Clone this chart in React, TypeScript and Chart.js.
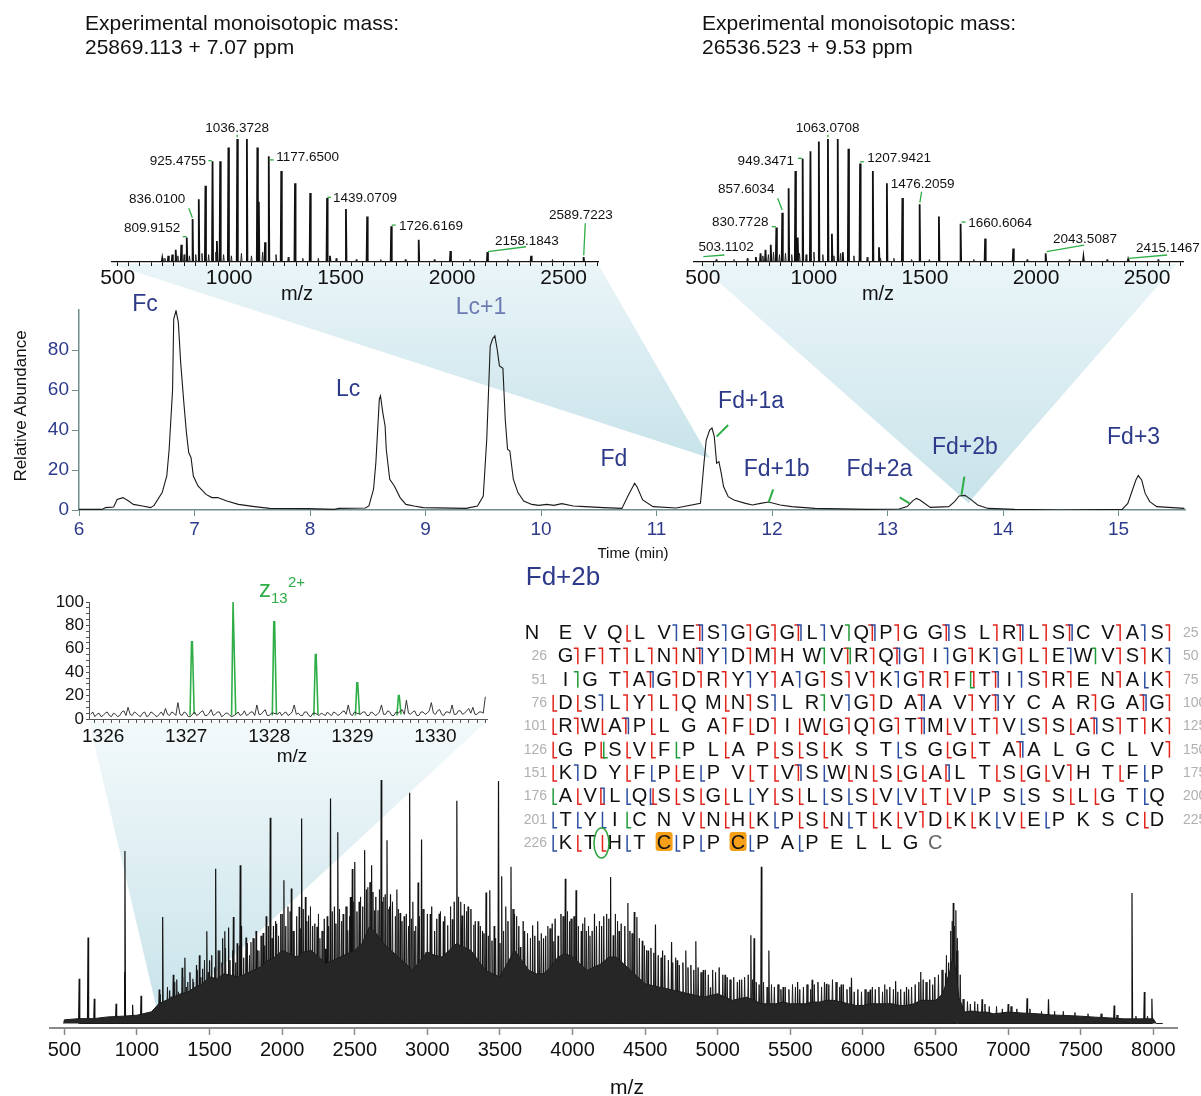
import React, { useEffect, useRef } from "react";
import { Chart, registerables } from "chart.js";

Chart.register(...registerables);

const FONT = "'Liberation Sans', Arial, Helvetica, sans-serif";
const NAVY = "#2d3a8a";
const NAVY_LIGHT = "#6d7bb3";
const GREEN = "#2fae47";
const AXIS_TEAL = "#6f8c8c";

// ================= DATA =================
// Header texts
const massHeading = "Experimental monoisotopic mass:";
const massLeftValue = "25869.113 + 7.07 ppm";
const massRightValue = "26536.523 + 9.53 ppm";

// Top-left inset: charge-state envelope (m/z, relative abundance)
const fd1aMz = [700, 727, 745, 760.3, 785.4, 809.9, 836.0, 863.8, 893.6, 925.5, 945.0, 959.7, 996.6, 1036.4, 1079.5, 1126.4, 1133.0, 1161.0, 1177.6, 1233.6, 1295.3, 1363.4, 1439.1, 1452.0, 1523.7, 1618.8, 1726.7, 1850.0, 1992.2, 2158.1, 2354.2, 2589.5];
const fd1aAbund = [3, 5, 6, 10, 14, 20, 35, 51, 62, 82, 17, 82, 93, 100, 100, 93, 49, 16, 86, 74, 64, 56, 52, 5, 43, 37, 29, 18, 9, 8, 5, 4];
const fd1aNoiseMz = [712, 770, 798, 822, 850, 878, 908, 940, 975, 1010, 1055, 1100, 1150, 1210, 1265, 1330, 1400, 1480, 1570, 1680, 1790, 1920, 2080, 2250, 2450];
const fd1aNoiseAbund = [3, 5, 6, 5, 6, 7, 6, 8, 6, 5, 7, 5, 8, 6, 4, 3, 3, 3, 2, 2, 2, 2, 2, 2, 2];

// Top-right inset
const fd2bMz = [738.6, 759.6, 781.9, 805.6, 830.8, 857.5, 886.1, 916.6, 927.0, 949.3, 984.4, 1022.2, 1063.1, 1081.0, 1107.3, 1130.0, 1155.4, 1207.9, 1265.4, 1293.0, 1328.6, 1398.5, 1476.1, 1562.9, 1660.5, 1771.1, 1897.6, 2043.5, 2213.7, 2414.8];
const fd2bAbund = [4, 7, 10, 14, 28, 40, 60, 74, 20, 84, 90, 98, 100, 23, 100, 8, 92, 80, 74, 12, 64, 52, 47, 37, 31, 19, 11, 7, 4, 2];
const fd2bNoiseMz = [560, 640, 700, 770, 795, 818, 845, 872, 900, 935, 965, 1000, 1040, 1090, 1120, 1180, 1240, 1300, 1360, 1440, 1520, 1720, 1960, 2150, 2320, 2550];
const fd2bNoiseAbund = [2, 2, 3, 5, 6, 8, 6, 7, 6, 7, 6, 8, 6, 5, 7, 5, 4, 3, 3, 2, 2, 2, 2, 2, 2, 2];

const insetMajorTicks = [500, 1000, 1500, 2000, 2500];

// Chromatogram
const lcTime = [6.0, 6.2, 6.23, 6.30, 6.33, 6.38, 6.43, 6.47, 6.55, 6.62, 6.65, 6.72, 6.76, 6.78, 6.81, 6.82, 6.84, 6.86, 6.88, 6.91, 6.93, 6.95, 6.97, 6.99, 7.03, 7.10, 7.15, 7.20, 7.28, 7.38, 7.52, 7.65, 7.98, 8.21, 8.25, 8.48, 8.51, 8.55, 8.57, 8.60, 8.61, 8.63, 8.65, 8.66, 8.69, 8.73, 8.78, 8.83, 8.90, 8.98, 9.35, 9.45, 9.50, 9.53, 9.56, 9.58, 9.60, 9.62, 9.64, 9.67, 9.69, 9.71, 9.73, 9.76, 9.80, 9.85, 9.92, 9.98, 10.05, 10.11, 10.18, 10.28, 10.38, 10.54, 10.70, 10.75, 10.81, 10.83, 10.88, 10.97, 11.17, 11.38, 11.41, 11.43, 11.46, 11.48, 11.50, 11.52, 11.54, 11.56, 11.58, 11.62, 11.67, 11.77, 11.83, 11.90, 11.97, 12.07, 12.17, 12.37, 12.83, 13.10, 13.17, 13.22, 13.25, 13.28, 13.37, 13.53, 13.58, 13.62, 13.67, 13.72, 13.78, 13.87, 14.10, 14.50, 15.03, 15.08, 15.12, 15.15, 15.17, 15.20, 15.23, 15.27, 15.33, 15.57];
const lcAbund = [0.3, 0.3, 1.2, 1.5, 5.3, 6.2, 4.5, 2.8, 2.0, 1.2, 2.3, 8.7, 17, 30, 60, 95.5, 99.7, 93.8, 73.8, 52, 38.7, 28.7, 26.2, 17, 12, 7.8, 6.2, 6.2, 4.5, 2.8, 1.7, 0.8, 0.7, 0.3, 0.8, 1.0, 2.0, 10.4, 23.7, 55.4, 57.1, 48.7, 42, 30.4, 15.4, 12, 6.2, 2.8, 2.0, 1.2, 0.8, 2.0, 7.0, 35.4, 82, 85.5, 87.1, 80.5, 72, 70.8, 45.4, 30.4, 29.5, 15.4, 8.7, 4.5, 2.8, 2.3, 2.8, 2.3, 3.2, 2.0, 1.7, 1.2, 0.8, 6.7, 13.4, 11.7, 5.0, 1.7, 1.0, 3.3, 23, 35, 40, 41, 36.7, 23.4, 24.2, 18.4, 11.7, 6.7, 5.0, 3.3, 2.5, 3.3, 4.0, 2.5, 1.7, 0.8, 0.3, 0.5, 1.7, 4.7, 5.8, 5.0, 1.3, 1.7, 4.2, 7.0, 7.3, 5.3, 2.5, 0.8, 0.3, 0, 0.3, 3.3, 10, 15, 17.2, 15, 8.3, 4.2, 1.7, 0.8];
const lcTimeTicks = [6, 7, 8, 9, 10, 11, 12, 13, 14, 15];
const lcAbundTicks = [0, 20, 40, 60, 80];
const lcPeakNames = ["Fc", "Lc", "Lc+1", "Fd", "Fd+1a", "Fd+1b", "Fd+2a", "Fd+2b", "Fd+3"];

// Isotope inset z13 2+
const isoPeakMz = [1327.07, 1327.57, 1328.06, 1328.56, 1329.06, 1329.56];
const isoPeakAbund = [66, 100, 83, 55, 31, 20];
const isoNoise: [number, number][] = [
  [1325.85, 4], [1325.875, 6], [1325.90, 2], [1325.925, 4], [1325.95, 5], [1325.975, 2], [1326.00, 3], [1326.025, 5], [1326.05, 6], [1326.075, 3],
  [1326.10, 2], [1326.125, 5], [1326.15, 4], [1326.175, 2], [1326.20, 3], [1326.225, 6], [1326.25, 7], [1326.275, 3], [1326.30, 10], [1326.325, 4],
  [1326.35, 3], [1326.375, 6], [1326.40, 5], [1326.425, 3], [1326.45, 2], [1326.475, 5], [1326.50, 6], [1326.525, 2], [1326.55, 3], [1326.575, 6],
  [1326.60, 5], [1326.625, 3], [1326.65, 2], [1326.675, 4], [1326.70, 6], [1326.725, 3], [1326.75, 9], [1326.775, 4], [1326.80, 3], [1326.825, 6],
  [1326.85, 5], [1326.875, 3], [1326.90, 14], [1326.925, 4], [1326.95, 3], [1326.975, 6], [1327.00, 5], [1327.025, 2], [1327.05, 2], [1327.10, 6],
  [1327.125, 3], [1327.15, 4], [1327.175, 6], [1327.20, 7], [1327.225, 3], [1327.25, 3], [1327.275, 5], [1327.30, 8], [1327.325, 3], [1327.35, 4],
  [1327.375, 6], [1327.40, 6], [1327.425, 2], [1327.45, 3], [1327.475, 5], [1327.50, 5], [1327.525, 3], [1327.55, 2], [1327.60, 4], [1327.625, 6],
  [1327.65, 3], [1327.675, 4], [1327.70, 7], [1327.725, 3], [1327.75, 4], [1327.775, 6], [1327.80, 6], [1327.825, 3], [1327.85, 12], [1327.875, 4],
  [1327.90, 4], [1327.925, 6], [1327.95, 8], [1327.975, 3], [1328.00, 3], [1328.025, 5], [1328.05, 5], [1328.10, 4], [1328.125, 6], [1328.15, 3],
  [1328.175, 5], [1328.20, 6], [1328.225, 3], [1328.25, 4], [1328.275, 6], [1328.30, 12], [1328.325, 4], [1328.35, 5], [1328.375, 3], [1328.40, 3],
  [1328.425, 6], [1328.45, 6], [1328.475, 3], [1328.50, 2], [1328.525, 5], [1328.55, 5], [1328.60, 3], [1328.625, 5], [1328.65, 4], [1328.675, 3],
  [1328.70, 6], [1328.725, 4], [1328.75, 3], [1328.775, 6], [1328.80, 5], [1328.825, 3], [1328.85, 4], [1328.875, 6], [1328.90, 7], [1328.925, 4],
  [1328.95, 12], [1328.975, 4], [1329.00, 3], [1329.025, 6], [1329.05, 5], [1329.10, 4], [1329.125, 6], [1329.15, 6], [1329.175, 3], [1329.20, 3],
  [1329.225, 6], [1329.25, 5], [1329.275, 3], [1329.30, 4], [1329.325, 6], [1329.35, 12], [1329.375, 4], [1329.40, 4], [1329.425, 7], [1329.45, 6],
  [1329.475, 3], [1329.50, 3], [1329.525, 6], [1329.55, 5], [1329.60, 8], [1329.625, 4], [1329.65, 16], [1329.675, 5], [1329.70, 4], [1329.725, 6],
  [1329.75, 7], [1329.775, 3], [1329.80, 3], [1329.825, 6], [1329.85, 6], [1329.875, 4], [1329.90, 5], [1329.925, 7], [1329.95, 14], [1329.975, 5],
  [1330.00, 4], [1330.025, 7], [1330.05, 8], [1330.075, 4], [1330.10, 3], [1330.125, 6], [1330.15, 6], [1330.175, 5], [1330.20, 12], [1330.225, 4],
  [1330.25, 4], [1330.275, 7], [1330.30, 7], [1330.325, 4], [1330.35, 5], [1330.375, 7], [1330.40, 9], [1330.425, 5], [1330.45, 10], [1330.475, 4],
  [1330.50, 4], [1330.525, 6], [1330.55, 6], [1330.575, 5], [1330.60, 19],
];
const isoMajorTicks = [1326, 1327, 1328, 1329, 1330];

// Full MS/MS spectrum: prominent peaks (m/z, rel. abundance)
const spectrumPeaks: [number, number][] = [
  [602, 18.4], [663, 35.3], [706, 10.2], [856, 8.1], [915, 21.1], [917, 70.8], [970, 7.7], [1028, 11.4], [1153, 14.0], [1177, 43.7],
  [1225, 13.6], [1274, 18.1], [1311, 22.9], [1350, 17.0], [1385, 18.4], [1452, 22.5], [1481, 37.9], [1542, 63.6], [1605, 37.9], [1631, 39.4],
  [1664, 43.7], [1711, 65.0], [1751, 35.3], [1785, 33.5], [1869, 37.2], [1918, 84.5], [1962, 41.0], [2012, 58.8], [2063, 55.4], [2117, 47.9],
  [2134, 84.2], [2182, 44.4], [2240, 39.7], [2296, 30.7], [2333, 92.4], [2383, 78.5], [2452, 38.3], [2483, 63.4], [2500, 66.3], [2568, 71.2],
  [2616, 65.0], [2637, 46.5], [2660, 46.5], [2682, 100], [2722, 75.3], [2748, 53.1], [2812, 45.4], [2878, 94.8], [2936, 57.9], [2960, 75.6],
  [2990, 29.3], [3081, 45.1], [3140, 40.3], [3172, 42.8], [3203, 91.5], [3240, 44.4], [3320, 40.6], [3404, 53.8], [3430, 54.7], [3490, 99.6],
  [3512, 60.5], [3576, 64.4], [3640, 31.4], [3725, 40.3], [3871, 33.8], [3950, 59.4], [4024, 54.7], [4084, 43.5], [4151, 45.1], [4262, 60.2],
  [4280, 36.2], [4381, 49.5], [4425, 45.8], [4443, 43.7], [4571, 40.7], [4682, 33.5], [4849, 33.8], [4950, 14.9], [5228, 36.2], [5300, 64.4],
  [5352, 30.0], [5748, 16.3], [5921, 18.8], [6225, 17.4], [6398, 21.1], [6569, 20.7], [6622, 49.5], [6640, 46.5], [7130, 10.4], [7278, 10.0],
  [7730, 7.4], [7853, 53.6], [7938, 12.9], [7990, 10.2],
];
// Spectrum: medium fragment peaks
const spectrumMinorPeaks: [number, number][] = [
  [1250, 20], [1330, 27], [1410, 24], [1430, 28], [1500, 26], [1570, 30], [1590, 35], [1690, 33], [1720, 40], [1820, 38],
  [1840, 30], [1890, 44], [1940, 40], [1990, 45], [2040, 48], [2080, 38], [2160, 52], [2210, 40], [2260, 35], [2310, 44],
  [2360, 48], [2420, 45], [2470, 52], [2530, 50], [2590, 56], [2700, 52], [2740, 48], [2790, 55], [2840, 44], [2900, 50],
  [2920, 40], [3020, 45], [3050, 38], [3110, 42], [3230, 50], [3280, 48], [3350, 42], [3380, 38], [3460, 40], [3540, 48],
  [3600, 45], [3670, 38], [3760, 42], [3800, 35], [3830, 40], [3900, 36], [3980, 42], [4060, 38], [4120, 36], [4200, 40],
  [4320, 38], [4480, 34], [4520, 30], [4620, 30], [4720, 26], [4780, 30], [4900, 22], [5050, 20], [5150, 18], [5250, 35],
  [5450, 15], [5550, 17], [5650, 18], [5850, 16], [6050, 14], [6150, 16], [6300, 15], [6480, 16], [6590, 25], [6650, 30],
  [6820, 10], [7000, 8],
];
// Spectrum: crowded low-level fragment cluster
const spectrumClusterPeaks: [number, number][] = [
  [1160, 12], [1185, 9], [1210, 15], [1235, 11], [1260, 17], [1285, 13], [1315, 19], [1340, 15], [1365, 21], [1390, 17],
  [1415, 22], [1440, 19], [1465, 26], [1490, 21], [1515, 28], [1535, 23], [1560, 30], [1585, 25], [1610, 31], [1640, 26],
  [1660, 30], [1680, 25], [1705, 32], [1735, 27], [1760, 33], [1775, 28], [1800, 35], [1830, 30], [1855, 36], [1880, 32],
  [1905, 40], [1930, 35], [1955, 42], [1975, 36], [2000, 45], [2025, 40], [2055, 46], [2075, 38], [2100, 44], [2125, 39],
  [2145, 47], [2170, 42], [2195, 48], [2225, 41], [2250, 45], [2275, 38], [2290, 43], [2320, 40], [2345, 46], [2370, 41],
  [2395, 47], [2410, 42], [2440, 48], [2465, 44], [2490, 50], [2515, 46], [2540, 52], [2555, 48], [2580, 55], [2605, 58],
  [2625, 54], [2645, 52], [2670, 55], [2690, 50], [2710, 53], [2735, 47], [2760, 50], [2780, 44], [2800, 47], [2825, 42],
  [2855, 45], [2870, 40], [2890, 43], [2910, 38], [2945, 44], [2970, 47], [3000, 45], [3030, 48], [3065, 43], [3090, 46],
  [3120, 44], [3160, 48], [3185, 50], [3215, 52], [3255, 49], [3270, 46], [3300, 47], [3330, 42], [3365, 40], [3390, 37],
  [3420, 36], [3445, 34], [3470, 35], [3500, 33], [3525, 38], [3555, 42], [3590, 47], [3615, 44], [3630, 40], [3660, 42],
  [3690, 37], [3710, 35], [3740, 36], [3770, 34], [3785, 37], [3815, 36], [3845, 39], [3860, 41], [3880, 43], [3920, 45],
  [3935, 44], [3965, 46], [3990, 43], [4010, 44], [4040, 40], [4070, 41], [4095, 38], [4110, 40], [4135, 38], [4165, 40],
  [4185, 42], [4215, 44], [4235, 45], [4250, 43], [4295, 45], [4310, 42], [4335, 41], [4360, 40], [4395, 38], [4410, 37],
  [4460, 35], [4495, 32], [4510, 30], [4540, 31], [4560, 29], [4590, 28], [4610, 27], [4635, 28], [4660, 26], [4690, 25],
  [4710, 27], [4735, 24], [4760, 25], [4795, 23], [4815, 24], [4835, 22], [4865, 23], [4885, 21], [4915, 22], [4935, 20],
  [4965, 22], [4985, 21], [5010, 23], [5035, 20], [5065, 19], [5085, 18], [5110, 19], [5135, 17], [5165, 18], [5185, 19],
  [5210, 20], [5240, 18], [5265, 17], [5285, 16], [5315, 17], [5340, 15], [5370, 16], [5390, 15], [5415, 16], [5435, 14],
  [5465, 15], [5490, 14], [5515, 16], [5535, 15], [5565, 14], [5590, 15], [5615, 16], [5640, 14], [5665, 16], [5690, 17],
  [5715, 15], [5735, 17], [5765, 16], [5790, 18], [5815, 17], [5840, 15], [5865, 16], [5890, 14], [5910, 15], [5940, 13],
  [5965, 14], [5990, 13], [6015, 14], [6035, 13], [6065, 15], [6085, 14], [6110, 15], [6135, 13], [6165, 14], [6185, 15],
  [6210, 14], [6240, 13], [6260, 14], [6285, 13], [6315, 14], [6335, 15], [6360, 16], [6385, 17], [6415, 18], [6435, 17],
  [6460, 18], [6495, 19], [6520, 20], [6545, 22], [6575, 28], [6605, 38], [6615, 42], [6630, 40], [6650, 35], [6670, 20],
  [6690, 10], [6720, 9], [6740, 8], [6770, 9], [6790, 8], [6840, 8], [6870, 7], [6920, 7], [6960, 6], [7020, 7],
  [7060, 6], [7150, 6], [7230, 5], [7320, 5], [7380, 5], [7460, 4.5], [7550, 4], [7640, 4], [7750, 3.5], [7880, 3],
  [7960, 3],
];
// Spectrum: dense unresolved fragment envelope
const spectrumEnvelope: [number, number][] = [
  [495, 0], [500, 1.5], [600, 2.0], [700, 2.0], [800, 2.7], [900, 3.0], [1000, 3.4], [1100, 4.8], [1150, 8.1], [1200, 9.5],
  [1250, 10.8], [1300, 12.2], [1350, 12.9], [1400, 14.9], [1450, 16.3], [1500, 19.1], [1550, 18.4], [1600, 20.4], [1650, 19.8], [1700, 19.1],
  [1750, 20.4], [1800, 21.8], [1850, 23.2], [1900, 25.9], [1950, 27.3], [2000, 30.0], [2050, 28.7], [2100, 27.3], [2150, 29.4], [2200, 30.0],
  [2250, 27.3], [2300, 24.6], [2350, 25.9], [2400, 27.3], [2450, 28.7], [2500, 30.0], [2550, 32.8], [2600, 39.6], [2650, 36.9], [2700, 32.8],
  [2750, 30.0], [2800, 27.3], [2850, 24.6], [2900, 21.8], [2950, 25.9], [3000, 29.4], [3050, 28.0], [3100, 27.3], [3150, 30.0], [3200, 32.8],
  [3250, 31.4], [3300, 30.0], [3350, 25.9], [3400, 21.8], [3450, 20.4], [3500, 19.1], [3550, 24.6], [3600, 30.0], [3650, 25.9], [3700, 21.8],
  [3750, 20.4], [3800, 20.4], [3850, 23.2], [3900, 27.3], [3950, 28.7], [4000, 27.3], [4050, 24.6], [4100, 21.8], [4150, 23.2], [4200, 24.6],
  [4250, 27.3], [4300, 27.3], [4350, 24.6], [4400, 21.8], [4450, 19.1], [4500, 16.3], [4550, 15.6], [4600, 14.9], [4650, 14.3], [4700, 13.6],
  [4750, 12.9], [4800, 12.2], [4850, 11.5], [4900, 10.8], [4950, 11.5], [5000, 12.2], [5050, 10.8], [5100, 9.5], [5150, 10.2], [5200, 10.8],
  [5250, 9.5], [5300, 8.1], [5350, 8.1], [5400, 8.1], [5450, 8.8], [5500, 8.1], [5550, 8.1], [5600, 8.1], [5650, 8.8], [5700, 8.8],
  [5750, 9.5], [5800, 9.5], [5850, 8.8], [5900, 8.1], [5950, 7.4], [6000, 7.4], [6050, 8.1], [6100, 8.1], [6150, 8.1], [6200, 8.1],
  [6250, 7.4], [6300, 7.4], [6350, 8.1], [6400, 9.5], [6450, 9.5], [6500, 9.5], [6550, 12.2], [6600, 21.8], [6620, 27.3], [6640, 21.8],
  [6660, 10.8], [6700, 4.7], [6750, 5.1], [6800, 4.7], [6850, 4.7], [6900, 4.0], [6950, 4.3], [7000, 4.7], [7100, 4.3], [7200, 4.0],
  [7300, 3.5], [7400, 3.3], [7500, 3.0], [7600, 2.6], [7700, 2.3], [7800, 1.9], [7900, 1.9], [8000, 1.9], [8020, 0], [8065, 0],
];
const spectrumTicks = [500, 1000, 1500, 2000, 2500, 3000, 3500, 4000, 4500, 5000, 5500, 6000, 6500, 7000, 7500, 8000];

// Sequence (Fd+2b) with fragment-ion cleavage marks after each residue
// lower case = N-terminal fragment mark, upper case = C-terminal fragment mark; r red, b blue, g green
const seqRows = [
  "EVQLVESGGGLVQPGGSLRLSCVAS",
  "GFTLNNYDMHWVRQGIGKGLEWVSK",
  "IGTAGDRYYAGSVKGRFTISRENAK",
  "DSLYLQMNSLRVGDAAVYYCARGAG",
  "RWAPLGAFDIWGQGTMVTVSSASTK",
  "GPSVFPLAPSSKSTSGGTAALGCLV",
  "KDYFPEPVTVSWNSGALTSGVHTFP",
  "AVLQSSGLYSLSSVVTVPSSSLGTQ",
  "TYICNVNHKPSNTKVDKKVEPKSCD",
  "KTHTCPPCPAPELLGC",
];
const seqMarks = [
  "- - R - b rb b r r rb b g rb r - rb - r rb r rb - r b r",
  "r r r r r rb b r r - g rg r rb r b r b r r b g r r b",
  "g - r rb r r r b r b r r r b r r Gr rb b r r - r B rR",
  "R b r r r - R r b - g b r - rb - r rb - - - r - rb rR",
  "r R rb R - - r R r R R r r r rb R R r B r R rb r r rR",
  "- RG R R G - R - R R R - - B - R R - rb - - - - - rR",
  "b - R B R B - R R rb B R R R R Rb - R R R r - R B G",
  "R Rb B BR R R R B R R B B R B R R B - B - R R - B B",
  "B B G - - R R R B R R B R R r R R B R B - - - R B",
  "R R B - B B - B - B - - - - - -",
];
const seqCysHighlight = [230, 233];
const seqCleavageAfter = 227;

// ================= LAYOUT / STYLE =================
const LA = { left: 100, top: 100, width: 530, height: 210, pad: { left: 11, right: 32, top: 39, bottom: 8 } };
const LB = { left: 680, top: 100, width: 521, height: 210, pad: { left: 14, right: 18, top: 39, bottom: 8 } };
const LC = { left: 0, top: 282, width: 1201, height: 270, pad: { left: 0, right: 16, top: 28, bottom: 6 } };
const LD = { left: 20, top: 575, width: 480, height: 190, pad: { left: 0, right: 13, top: 27, bottom: 14 } };
const LE = { left: 0, top: 768, width: 1201, height: 300, pad: { left: 50, right: 24, top: 12, bottom: 4 } };

type InsetLabel = { text: string; mz: number; ab: number; align: "left" | "right" | "center"; leader: number[] };
const fd1aLabels: InsetLabel[] = [
  { text: "1036.3728", mz: 1036, ab: 108.7, align: "center", leader: [1036, 101.5, 1036, 103.5] },
  { text: "925.4755", mz: 896, ab: 82.1, align: "right", leader: [907, 82.4, 922, 82.4] },
  { text: "1177.6500", mz: 1211, ab: 85.1, align: "left", leader: [1181, 83, 1200, 83] },
  { text: "836.0100", mz: 803, ab: 51, align: "right", leader: [819, 43.7, 835, 36] },
  { text: "809.9152", mz: 781, ab: 27.1, align: "right", leader: [792, 20.6, 809, 20.6] },
  { text: "1439.0709", mz: 1466, ab: 51.5, align: "left", leader: [1440, 52.6, 1457, 52.6] },
  { text: "1726.6169", mz: 1762, ab: 28.7, align: "left", leader: [1729, 30, 1747, 30] },
  { text: "2158.1843", mz: 2192, ab: 17.1, align: "left", leader: [2160, 8.4, 2331, 12.4] },
  { text: "2589.7223", mz: 2577, ab: 38.2, align: "center", leader: [2597, 31.5, 2590, 5.5] },
];
const fd2bLabels: InsetLabel[] = [
  { text: "1063.0708", mz: 1062, ab: 108.7, align: "center", leader: [1063, 101.5, 1063, 103.5] },
  { text: "949.3471", mz: 910, ab: 81.5, align: "right", leader: [928, 84.3, 948, 84.3] },
  { text: "1207.9421", mz: 1240, ab: 84.3, align: "left", leader: [1208, 81.5, 1225, 81.5] },
  { text: "857.6034", mz: 822, ab: 59.1, align: "right", leader: [837, 51.8, 857, 42.3] },
  { text: "830.7728", mz: 795, ab: 32.3, align: "right", leader: [810, 28.7, 829, 28.7] },
  { text: "1476.2059", mz: 1346, ab: 63.2, align: "left", leader: [1485, 57.2, 1477, 48.2] },
  { text: "1660.6064", mz: 1695, ab: 31.5, align: "left", leader: [1665, 32.5, 1683, 32.5] },
  { text: "503.1102", mz: 480, ab: 11.6, align: "left", leader: [502, 4.3, 597, 5.7] },
  { text: "2043.5087", mz: 2077, ab: 18.5, align: "left", leader: [2048, 8.4, 2217, 13.8] },
  { text: "2415.1467", mz: 2450, ab: 11.1, align: "left", leader: [2418, 3, 2590, 5.7] },
];
// chromatogram peak-name placement (time, abundance) and optional green leader
const lcLabelPlacement = [
  { t: 6.571, ab: 102.5 },
  { t: 8.329, ab: 60 },
  { t: 9.48, ab: 101, color: NAVY_LIGHT },
  { t: 10.63, ab: 25 },
  { t: 11.818, ab: 54, leader: [11.52, 36.7, 11.62, 42.5] },
  { t: 12.04, ab: 20, leader: [11.97, 3.8, 12.01, 10.3] },
  { t: 12.93, ab: 20, leader: [13.105, 6.3, 13.19, 3.3] },
  { t: 13.67, ab: 31, leader: [13.64, 7.5, 13.665, 16.7] },
  { t: 15.13, ab: 36 },
];
// zoom funnels: inset axis span -> point on the parent trace
const funnelSpecs = {
  fd1a: { from: 472, to: 2654, t: 11.46, ab: 26 },
  fd2b: { from: 479, to: 2634, t: 13.70, ab: 3.5 },
  iso: { from: 1325.83, to: 1330.62, mz: 1160, ab: 0 },
};

// ================= HELPERS =================
type Pt = { x: number; y: number | null };

function sticks(peaks: [number, number][], half: number): Pt[] {
  const sorted = [...peaks].sort((a, b) => a[0] - b[0]);
  const pts: Pt[] = [];
  for (const [m, a] of sorted) {
    pts.push({ x: m - half, y: 0 }, { x: m, y: a }, { x: m + half, y: 0 });
  }
  return pts;
}
function zip(a: number[], b: number[]): [number, number][] {
  return a.map((v, i) => [v, b[i]]);
}
function range(from: number, to: number, step: number): number[] {
  const out: number[] = [];
  const n = Math.round((to - from) / step);
  for (let i = 0; i <= n; i++) out.push(Math.round((from + i * step) * 1000) / 1000);
  return out;
}
const isWhole = (v: number) => Math.abs(v - Math.round(v)) < 1e-6;

function axis(o: any) {
  const horizontal = o.position === "bottom";
  return {
    type: "linear",
    position: o.position,
    min: o.min,
    max: o.max,
    afterBuildTicks: (ax: any) => {
      ax.ticks = o.ticks.map((v: number) => ({ value: v }));
    },
    afterFit: (ax: any) => {
      if (horizontal) ax.height = o.size;
      else ax.width = o.size;
    },
    grid: {
      display: true,
      drawOnChartArea: false,
      drawTicks: true,
      tickLength: o.tickLength,
      tickColor: o.color,
      tickWidth: o.tickWidth ?? 1,
      color: o.color,
    },
    border: { display: true, color: o.color, width: o.borderWidth },
    ticks: {
      autoSkip: false,
      maxRotation: 0,
      minRotation: 0,
      padding: o.padding,
      color: o.labelColor,
      font: { size: o.fontSize, family: FONT, lineHeight: 1.2 },
      callback: (v: number) => (o.show(v) ? String(Math.round(v)) : ""),
    },
  };
}

function baseOptions(pad: any) {
  return {
    responsive: false,
    maintainAspectRatio: false,
    animation: false,
    devicePixelRatio: 1,
    events: [],
    layout: { padding: pad },
    plugins: { legend: { display: false }, tooltip: { enabled: false } },
  };
}

function insetLabelPlugin(id: string, labels: InsetLabel[]) {
  return {
    id,
    afterDatasetsDraw(chart: any) {
      const { ctx } = chart;
      const xs = chart.scales.x;
      const ys = chart.scales.y;
      ctx.save();
      ctx.lineWidth = 1.3;
      ctx.strokeStyle = GREEN;
      ctx.fillStyle = "#111";
      ctx.font = `13.5px ${FONT}`;
      ctx.textBaseline = "middle";
      for (const l of labels) {
        const [m1, a1, m2, a2] = l.leader;
        ctx.beginPath();
        ctx.moveTo(xs.getPixelForValue(m1), ys.getPixelForValue(a1));
        ctx.lineTo(xs.getPixelForValue(m2), ys.getPixelForValue(a2));
        ctx.stroke();
        ctx.textAlign = l.align;
        ctx.fillText(l.text, xs.getPixelForValue(l.mz), ys.getPixelForValue(l.ab));
      }
      ctx.restore();
    },
  };
}

const chromLabelPlugin = {
  id: "chromLabels",
  afterDatasetsDraw(chart: any) {
    const { ctx } = chart;
    const xs = chart.scales.x;
    const ys = chart.scales.y;
    ctx.save();
    ctx.font = `23px ${FONT}`;
    ctx.textAlign = "center";
    ctx.textBaseline = "middle";
    lcPeakNames.forEach((name, i) => {
      const p: any = lcLabelPlacement[i];
      if (p.leader) {
        ctx.strokeStyle = GREEN;
        ctx.lineWidth = 2;
        ctx.beginPath();
        ctx.moveTo(xs.getPixelForValue(p.leader[0]), ys.getPixelForValue(p.leader[1]));
        ctx.lineTo(xs.getPixelForValue(p.leader[2]), ys.getPixelForValue(p.leader[3]));
        ctx.stroke();
      }
      ctx.fillStyle = p.color || NAVY;
      ctx.fillText(name, xs.getPixelForValue(p.t), ys.getPixelForValue(p.ab));
    });
    ctx.restore();
  },
};

function insetConfig(mz: number[], ab: number[], nMz: number[], nAb: number[], labels: InsetLabel[], L: any, min: number, max: number, id: string): any {
  return {
    type: "line",
    data: {
      datasets: [
        { data: sticks(zip(nMz, nAb), 3), borderColor: "#222", borderWidth: 1, pointRadius: 0, tension: 0, fill: false },
        { data: sticks(zip(mz, ab), 2.5), borderColor: "#111", borderWidth: 1.8, pointRadius: 0, tension: 0, fill: false },
      ],
    },
    options: {
      ...baseOptions(L.pad),
      scales: {
        x: axis({
          position: "bottom", min, max, ticks: range(500, 2650, 50), show: (v: number) => insetMajorTicks.includes(v),
          size: 40, tickLength: 4, color: "#111", borderWidth: 1.3, padding: 0, labelColor: "#111", fontSize: 21,
        }),
        y: { display: false, min: 0, max: 100 },
      },
    },
    plugins: [insetLabelPlugin(id, labels)],
  };
}

// ================= COMPONENT =================
export default function App() {
  const bgRef = useRef<HTMLCanvasElement>(null);
  const aRef = useRef<HTMLCanvasElement>(null);
  const bRef = useRef<HTMLCanvasElement>(null);
  const cRef = useRef<HTMLCanvasElement>(null);
  const dRef = useRef<HTMLCanvasElement>(null);
  const eRef = useRef<HTMLCanvasElement>(null);

  useEffect(() => {
    Chart.defaults.font.family = FONT;
    const A = new Chart(aRef.current!, insetConfig(fd1aMz, fd1aAbund, fd1aNoiseMz, fd1aNoiseAbund, fd1aLabels, LA, 472, 2654, "annA"));
    const B = new Chart(bRef.current!, insetConfig(fd2bMz, fd2bAbund, fd2bNoiseMz, fd2bNoiseAbund, fd2bLabels, LB, 460, 2662, "annB"));

    const C = new Chart(cRef.current!, {
      type: "line",
      data: {
        datasets: [
          { data: lcTime.map((t, i) => ({ x: t, y: lcAbund[i] })), borderColor: "#1a1a1a", borderWidth: 1.1, pointRadius: 0, tension: 0, fill: false },
        ],
      },
      options: {
        ...baseOptions(LC.pad),
        scales: {
          x: axis({
            position: "bottom", min: 6, max: 15.575, ticks: lcTimeTicks, show: () => true,
            size: 36, tickLength: 6, color: AXIS_TEAL, borderWidth: 1.5, padding: 2, labelColor: NAVY, fontSize: 19,
          }),
          y: axis({
            position: "left", min: 0, max: 100, ticks: lcAbundTicks, show: () => true,
            size: 79, tickLength: 7, color: AXIS_TEAL, borderWidth: 1.5, padding: 3, labelColor: NAVY, fontSize: 19,
          }),
        },
      },
      plugins: [chromLabelPlugin],
    } as any);

    const greenPts: Pt[] = [];
    isoPeakMz.forEach((c, i) => {
      const h = isoPeakAbund[i];
      greenPts.push({ x: c - 0.024, y: 3 }, { x: c - 0.006, y: h }, { x: c + 0.004, y: h }, { x: c + 0.026, y: 4 }, { x: c + 0.03, y: null });
    });
    const D = new Chart(dRef.current!, {
      type: "line",
      data: {
        datasets: [
          { data: isoNoise.map(([x, y]) => ({ x, y })), borderColor: "#222", borderWidth: 0.9, pointRadius: 0, tension: 0, fill: false },
          { data: greenPts, borderColor: GREEN, borderWidth: 1.6, pointRadius: 0, tension: 0, fill: false, spanGaps: false },
        ],
      },
      options: {
        ...baseOptions(LD.pad),
        scales: {
          x: axis({
            position: "bottom", min: 1325.83, max: 1330.62, ticks: range(1325.9, 1330.6, 0.1), show: (v: number) => isWhole(v) && isoMajorTicks.includes(Math.round(v)),
            size: 32, tickLength: 4, color: "#555", borderWidth: 1, padding: 2, labelColor: "#111", fontSize: 19,
          }),
          y: axis({
            position: "left", min: 0, max: 100, ticks: range(0, 100, 5), show: (v: number) => v % 20 === 0,
            size: 69, tickLength: 3, color: "#555", borderWidth: 1, padding: 2, labelColor: "#111", fontSize: 17,
          }),
        },
      },
    } as any);

    const E = new Chart(eRef.current!, {
      type: "line",
      data: {
        datasets: [
          { data: spectrumEnvelope.map(([x, y]) => ({ x, y })), borderColor: "#1a1a1a", backgroundColor: "#262626", borderWidth: 1, pointRadius: 0, tension: 0, fill: "origin" },
          { data: sticks(spectrumClusterPeaks, 6), borderColor: "#1c1c1c", borderWidth: 1, pointRadius: 0, tension: 0, fill: false },
          { data: sticks([...spectrumPeaks, ...spectrumMinorPeaks], 4), borderColor: "#111", borderWidth: 1.2, pointRadius: 0, tension: 0, fill: false },
        ],
      },
      options: {
        ...baseOptions(LE.pad),
        scales: {
          x: axis({
            position: "bottom", min: 401, max: 8163, ticks: spectrumTicks, show: () => true,
            size: 36, tickLength: 7, tickWidth: 1.5, color: "#8a8a8a", borderWidth: 2, padding: 3, labelColor: "#111", fontSize: 20,
          }),
          y: { display: false, min: -1.85, max: 100 },
        },
      },
    } as any);

    // zoom funnels drawn behind the charts, anchored through the charts' scales
    const bg = bgRef.current!;
    const ctx = bg.getContext("2d")!;
    ctx.clearRect(0, 0, bg.width, bg.height);
    const at = (ch: any, L: any, xv: number, yv: number) => ({
      x: L.left + ch.scales.x.getPixelForValue(xv),
      y: L.top + ch.scales.y.getPixelForValue(yv),
    });
    const tri = (p1: any, p2: any, apex: any, c0: string, c1: string) => {
      const g = ctx.createLinearGradient(0, p1.y, 0, apex.y);
      g.addColorStop(0, c0);
      g.addColorStop(1, c1);
      ctx.fillStyle = g;
      ctx.beginPath();
      ctx.moveTo(p1.x, p1.y);
      ctx.lineTo(p2.x, p2.y);
      ctx.lineTo(apex.x, apex.y);
      ctx.closePath();
      ctx.fill();
    };
    const f1 = funnelSpecs.fd1a;
    const a1 = at(A, LA, f1.from, 0), a2 = at(A, LA, f1.to, 0);
    tri({ x: a1.x, y: a1.y + 2 }, { x: a2.x, y: a2.y + 2 }, at(C, LC, f1.t, f1.ab), "#eaf5f8", "#c8e3ea");
    const f2 = funnelSpecs.fd2b;
    const b1 = at(B, LB, f2.from, 0), b2 = at(B, LB, f2.to, 0);
    tri({ x: b1.x, y: b1.y + 2 }, { x: b2.x, y: b2.y + 2 }, at(C, LC, f2.t, f2.ab), "#eaf5f8", "#c8e3ea");
    const f3 = funnelSpecs.iso;
    const d1 = at(D, LD, f3.from, 0), d2 = at(D, LD, f3.to, 0);
    tri({ x: d1.x, y: d1.y + 2 }, { x: d2.x, y: d2.y + 2 }, at(E, LE, f3.mz, f3.ab), "#f3f9fb", "#c6e2e9");

    return () => {
      [A, B, C, D, E].forEach((c) => c.destroy());
    };
  }, []);

  const canvasStyle = (L: any): React.CSSProperties => ({
    position: "absolute", left: L.left, top: L.top, width: L.width, height: L.height,
  });

  // sequence panel
  const SX0 = 565.5, SDX = 24.65, SY0 = 632, SDY = 23.33;
  const markColor: Record<string, string> = { r: "#e2231a", b: "#2b4ea2", g: "#1f9b3a" };
  const seqEls: React.ReactNode[] = [];
  const hook = (key: string, x: number, yc: number, nTerm: boolean, color: string) => {
    const top = yc - 7, bot = yc + 9;
    const d = nTerm ? `M${x - 4} ${top} L${x} ${top} L${x} ${bot}` : `M${x} ${top} L${x} ${bot} L${x + 4} ${bot}`;
    seqEls.push(<path key={key} d={d} stroke={color} strokeWidth={1.5} fill="none" />);
  };
  seqRows.forEach((row, r) => {
    const yc = SY0 + r * SDY;
    const first = r * 25 + 1;
    if (r === 0) {
      seqEls.push(<text key={`n${r}`} x={532} y={yc} textAnchor="middle" dominantBaseline="central" fontSize={20} fill="#111">N</text>);
    } else {
      seqEls.push(<text key={`n${r}`} x={547} y={yc} textAnchor="end" dominantBaseline="central" fontSize={14} fill="#b0b0b0">{first}</text>);
    }
    if (row.length === 25) {
      seqEls.push(<text key={`e${r}`} x={1183} y={yc} textAnchor="start" dominantBaseline="central" fontSize={14} fill="#b0b0b0">{first + 24}</text>);
    }
    row.split("").forEach((aa, c) => {
      const x = SX0 + c * SDX;
      const num = first + c;
      if (seqCysHighlight.includes(num)) {
        seqEls.push(<rect key={`h${num}`} x={x - 8.5} y={yc - 10} width={17} height={19} rx={3} fill="#f6a01a" />);
      }
      const grey = r === seqRows.length - 1 && c === row.length - 1;
      seqEls.push(
        <text key={`a${num}`} x={x} y={yc} textAnchor="middle" dominantBaseline="central" fontSize={20} fill={grey ? "#666" : "#111"}>{aa}</text>
      );
    });
    seqMarks[r].split(" ").forEach((code, c) => {
      if (code === "-") return;
      const lower = code.split("").filter((ch) => ch === ch.toLowerCase());
      const upper = code.split("").filter((ch) => ch !== ch.toLowerCase()).map((ch) => ch.toLowerCase());
      const gx = SX0 + (c + 0.5) * SDX;
      const wrap = c === row.length - 1 && r < seqRows.length - 1;
      const shift = lower.length && upper.length && !wrap ? 1.6 : 0;
      lower.forEach((ch, i) => {
        const off = (i - (lower.length - 1) / 2) * 2.6 + shift;
        hook(`m${r}-${c}-n${i}`, gx + off, yc, true, markColor[ch]);
      });
      upper.forEach((ch, i) => {
        const off = (i - (upper.length - 1) / 2) * 2.6 - shift;
        if (wrap) hook(`m${r}-${c}-c${i}`, SX0 - 0.5 * SDX + off, yc + SDY, false, markColor[ch]);
        else hook(`m${r}-${c}-c${i}`, gx + off, yc, false, markColor[ch]);
      });
    });
  });
  {
    const idx = seqCleavageAfter - 226;
    seqEls.push(
      <ellipse key="cleave" cx={SX0 + (idx + 0.5) * SDX - 1} cy={SY0 + 9 * SDY + 1} rx={7.5} ry={15} stroke="#2aa23a" strokeWidth={1.5} fill="none" />
    );
  }

  return (
    <div style={{ position: "absolute", left: 0, top: 0, width: 1201, height: 1096, overflow: "hidden", background: "#fff", fontFamily: FONT }}>
      <canvas ref={bgRef} width={1201} height={1096} style={{ position: "absolute", left: 0, top: 0, width: 1201, height: 1096 }} />
      <canvas ref={cRef} width={LC.width} height={LC.height} style={canvasStyle(LC)} />
      <canvas ref={aRef} width={LA.width} height={LA.height} style={canvasStyle(LA)} />
      <canvas ref={bRef} width={LB.width} height={LB.height} style={canvasStyle(LB)} />
      <canvas ref={dRef} width={LD.width} height={LD.height} style={canvasStyle(LD)} />
      <canvas ref={eRef} width={LE.width} height={LE.height} style={canvasStyle(LE)} />
      <svg width={1201} height={1096} style={{ position: "absolute", left: 0, top: 0, pointerEvents: "none" }} fontFamily={FONT}>
        <text x={85} y={29.5} fontSize={21} fill="#111">{massHeading}</text>
        <text x={85} y={53.5} fontSize={21} fill="#111">{massLeftValue}</text>
        <text x={702} y={29.5} fontSize={21} fill="#111">{massHeading}</text>
        <text x={702} y={53.5} fontSize={21} fill="#111">{massRightValue}</text>
        <text x={297} y={293} textAnchor="middle" dominantBaseline="central" fontSize={20} fill="#111">m/z</text>
        <text x={878} y={293} textAnchor="middle" dominantBaseline="central" fontSize={20} fill="#111">m/z</text>
        <text x={20} y={406} textAnchor="middle" dominantBaseline="central" fontSize={17} fill="#111" transform="rotate(-90 20 406)">Relative Abundance</text>
        <text x={633} y={552} textAnchor="middle" dominantBaseline="central" fontSize={15} fill="#111">Time (min)</text>
        <text x={563} y={576} textAnchor="middle" dominantBaseline="central" fontSize={26} fill={NAVY}>Fd+2b</text>
        <text x={259} y={597} fontSize={24} fill={GREEN}>z</text>
        <text x={271} y={603} fontSize={15} fill={GREEN}>13</text>
        <text x={288} y={587} fontSize={15} fill={GREEN}>2+</text>
        <text x={292} y={755} textAnchor="middle" dominantBaseline="central" fontSize={19} fill="#111">m/z</text>
        <text x={627} y={1086} textAnchor="middle" dominantBaseline="central" fontSize={21} fill="#111">m/z</text>
        {seqEls}
      </svg>
    </div>
  );
}
